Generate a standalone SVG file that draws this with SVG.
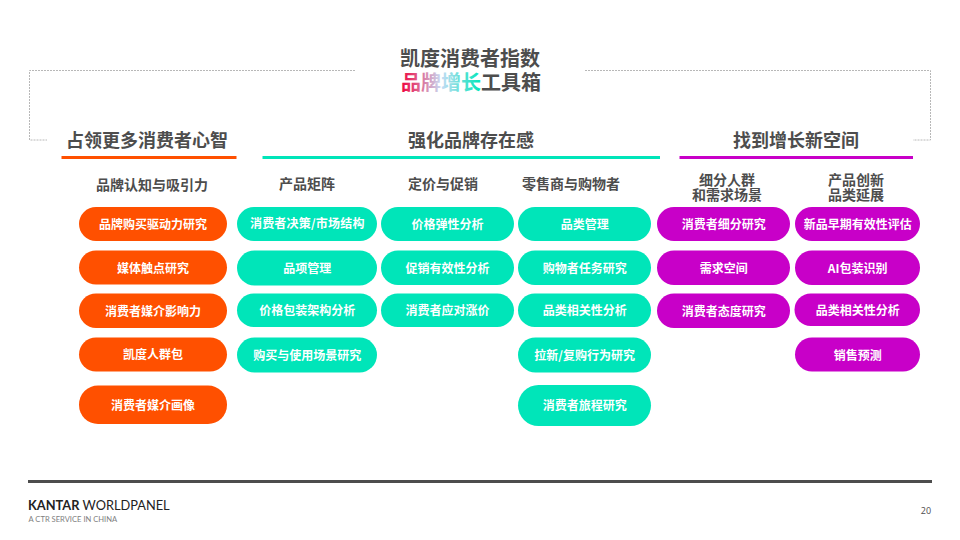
<svg xmlns="http://www.w3.org/2000/svg" width="960" height="540" viewBox="0 0 960 540">
<style>
text{font-family:"Noto Sans CJK SC","Noto Sans",sans-serif;font-weight:700;text-anchor:middle}
.d{fill:#4d4d4d}
.h{font-size:18px}
.s{font-size:14px}
.t{font-size:20px}
.n{font-size:12px;fill:#fff}
.o{fill:#ff5000}
.g{fill:#00e5b9}
.p{fill:#c800c8}
.f{fill:none;stroke:#b8b8b8;stroke-width:1;stroke-dasharray:2 1}
</style>
<defs><linearGradient id="gr" gradientUnits="userSpaceOnUse" x1="401" y1="0" x2="481" y2="0"><stop offset="0" stop-color="#f0003c"/><stop offset=".5" stop-color="#c8dcf5"/><stop offset="1" stop-color="#00e5b9"/></linearGradient></defs>
<rect width="960" height="540" fill="#fff"/>
<g id="connectors">
<path class="f" d="M355 70.500H29.500V140H47"/>
<path class="f" d="M585 70.500H930.500V140H913"/>
</g>
<g id="title"><text class="t d" x="470" y="66">凯度消费者指数</text><text class="t" x="471" y="90"><tspan fill="url(#gr)">品牌增长</tspan><tspan class="d">工具箱</tspan></text></g>
<g id="head-1"><text class="h d" x="147" y="147">占领更多消费者心智</text><rect class="o" x="61.500" y="156" width="175" height="3"/></g>
<g id="head-2"><text class="h d" x="471" y="147">强化品牌存在感</text><rect class="g" x="262.500" y="156" width="397.500" height="3"/></g>
<g id="head-3"><text class="h d" x="796" y="147">找到增长新空间</text><rect class="p" x="679.500" y="156" width="233.500" height="3"/></g>
<g id="sub-1"><text class="s d" x="152" y="190">品牌认知与吸引力</text></g>
<g id="sub-2"><text class="s d" x="307" y="189">产品矩阵</text></g>
<g id="sub-3"><text class="s d" x="443" y="189">定价与促销</text></g>
<g id="sub-4"><text class="s d" x="571" y="189">零售商与购物者</text></g>
<g id="sub-5"><text class="s d" x="727" y="185">细分人群</text><text class="s d" x="727" y="200">和需求场景</text></g>
<g id="sub-6"><text class="s d" x="856" y="185">产品创新</text><text class="s d" x="856" y="200">品类延展</text></g>
<g id="o1"><rect class="o" x="79" y="207" width="148" height="34" rx="17"/><text class="n" x="153" y="228.500">品牌购买驱动力研究</text></g>
<g id="o2"><rect class="o" x="79" y="250.500" width="148" height="34" rx="17"/><text class="n" x="153" y="272.500">媒体触点研究</text></g>
<g id="o3"><rect class="o" x="79" y="293.500" width="148" height="34.500" rx="17"/><text class="n" x="153" y="315.500">消费者媒介影响力</text></g>
<g id="o4"><rect class="o" x="79" y="337.500" width="148" height="34" rx="17"/><text class="n" x="153" y="358.500">凯度人群包</text></g>
<g id="o5"><rect class="o" x="79" y="385.500" width="148" height="38.500" rx="19"/><text class="n" x="153" y="409.500">消费者媒介画像</text></g>
<g id="a1"><rect class="g" x="237" y="207" width="140" height="34" rx="17"/><text class="n" x="307.300" y="228" letter-spacing=".2">消费者决策/市场结构</text></g>
<g id="a2"><rect class="g" x="237" y="250.500" width="140" height="35" rx="17.500"/><text class="n" x="307.300" y="272.500">品项管理</text></g>
<g id="a3"><rect class="g" x="237" y="293.500" width="140" height="33.500" rx="16.750"/><text class="n" x="307.300" y="314.500">价格包装架构分析</text></g>
<g id="a4"><rect class="g" x="237" y="337.500" width="140" height="35" rx="17.500"/><text class="n" x="307.300" y="359.500">购买与使用场景研究</text></g>
<g id="b1"><rect class="g" x="381" y="207" width="133" height="34" rx="17"/><text class="n" x="447.500" y="228.500">价格弹性分析</text></g>
<g id="b2"><rect class="g" x="381" y="250.500" width="133" height="34.500" rx="17"/><text class="n" x="447.500" y="272.500">促销有效性分析</text></g>
<g id="b3"><rect class="g" x="381" y="293.500" width="133" height="33.500" rx="16.750"/><text class="n" x="447.500" y="315">消费者应对涨价</text></g>
<g id="c1"><rect class="g" x="518" y="207" width="133" height="34" rx="17"/><text class="n" x="584.700" y="228.500">品类管理</text></g>
<g id="c2"><rect class="g" x="518" y="250.500" width="133" height="34.500" rx="17"/><text class="n" x="584.700" y="272.500">购物者任务研究</text></g>
<g id="c3"><rect class="g" x="518" y="293.500" width="133" height="33.500" rx="16.750"/><text class="n" x="584.700" y="315">品类相关性分析</text></g>
<g id="c4"><rect class="g" x="518" y="337.500" width="133" height="35" rx="17.500"/><text class="n" x="584.700" y="359.500">拉新/复购行为研究</text></g>
<g id="c5"><rect class="g" x="518" y="385" width="133" height="41" rx="20.500"/><text class="n" x="584.700" y="410">消费者旅程研究</text></g>
<g id="d1"><rect class="p" x="657" y="207" width="133" height="34" rx="17"/><text class="n" x="723.800" y="228.500">消费者细分研究</text></g>
<g id="d2"><rect class="p" x="657" y="250.500" width="133" height="34.500" rx="17"/><text class="n" x="723.800" y="272.500">需求空间</text></g>
<g id="d3"><rect class="p" x="657" y="293.500" width="133" height="34.500" rx="17"/><text class="n" x="723.800" y="315.500">消费者态度研究</text></g>
<g id="e1"><rect class="p" x="795" y="207" width="125" height="34" rx="17"/><text class="n" x="857.700" y="228.500">新品早期有效性评估</text></g>
<g id="e2"><rect class="p" x="795" y="250.500" width="125" height="34.500" rx="17"/><text class="n" x="857.700" y="272.500">AI包装识别</text></g>
<g id="e3"><rect class="p" x="794.500" y="293.500" width="125.500" height="32.500" rx="16.250"/><text class="n" x="857.700" y="314.500">品类相关性分析</text></g>
<g id="e4"><rect class="p" x="795" y="337.500" width="125" height="34" rx="17"/><text class="n" x="857.700" y="359.500">销售预测</text></g>
<g id="footer">
<rect x="28" y="480" width="904" height="3" fill="#4d4d4d"/>
<text x="28" y="509.500" style="text-anchor:start;font-family:Lato,sans-serif;font-size:12.800px;font-weight:700;fill:#222">KANTAR <tspan font-weight="400">WORLDPANEL</tspan></text>
<text x="28.500" y="522" style="text-anchor:start;font-family:Lato,sans-serif;font-size:7.600px;font-weight:400;fill:#808080">A CTR SERVICE IN CHINA</text>
<text x="926" y="514" style="font-family:'Open Sans',sans-serif;font-size:9px;font-weight:400;fill:#4d4d4d">20</text>
</g>
</svg>
